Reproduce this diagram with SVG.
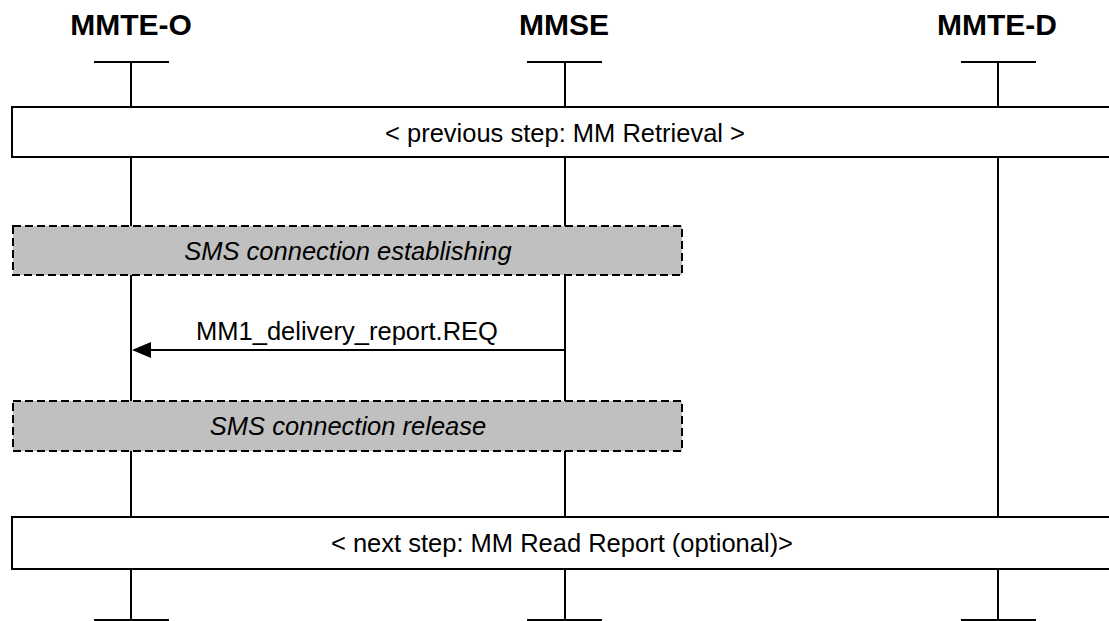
<svg xmlns="http://www.w3.org/2000/svg" width="1109" height="621" viewBox="0 0 1109 621">
<defs>
<style>
.t{font-family:"Liberation Sans",Arial,sans-serif;fill:#000}
.h{font-size:30px;font-weight:bold}
.b{font-size:25.5px}
.i{font-size:25.5px;font-style:italic}
.ln{stroke:#000;stroke-width:2;fill:none}
.box{fill:#fff;stroke:#000;stroke-width:2}
.dbox{fill:#c0c0c0;stroke:#000;stroke-width:2;stroke-dasharray:8,4}
</style>
</defs>
<g id="lifeline-mmte-o">
<text class="t h" x="131" y="35" text-anchor="middle">MMTE-O</text>
<path class="ln" d="M94,62H169M131,62V107M131,157V226M131,275V401M131,451V517M131,569V620M94,620H169"/>
</g>
<g id="lifeline-mmse">
<text class="t h" x="564" y="35" text-anchor="middle">MMSE</text>
<path class="ln" d="M527,62H602M565,62V107M565,157V226M565,275V401M565,451V517M565,569V620M527,620H602"/>
</g>
<g id="lifeline-mmte-d">
<text class="t h" x="997" y="35" text-anchor="middle">MMTE-D</text>
<path class="ln" d="M961,62H1036M998,62V107M998,157V517M998,569V620M961,620H1036"/>
</g>
<g id="prev-step">
<rect class="box" x="12" y="107" width="1100" height="50"/>
<text class="t b" x="565" y="142" text-anchor="middle">&lt; previous step: MM Retrieval &gt;</text>
</g>
<g id="sms-establish">
<rect class="dbox" x="13" y="226" width="669" height="49"/>
<text class="t i" x="348" y="260" text-anchor="middle">SMS connection establishing</text>
</g>
<g id="sms-release">
<rect class="dbox" x="13" y="401" width="669" height="50"/>
<text class="t i" x="348" y="435" text-anchor="middle">SMS connection release</text>
</g>
<g id="next-step">
<rect class="box" x="12" y="517" width="1100" height="52"/>
<text class="t b" x="562" y="552" text-anchor="middle">&lt; next step: MM Read Report (optional)&gt;</text>
</g>
<g id="connectors">
<line class="ln" x1="565" y1="350" x2="150" y2="350"/>
<path d="M132,350 L151,342 L151,358 Z" fill="#000"/>
<text class="t b" x="347" y="340" text-anchor="middle">MM1_delivery_report.REQ</text>
</g>
</svg>
